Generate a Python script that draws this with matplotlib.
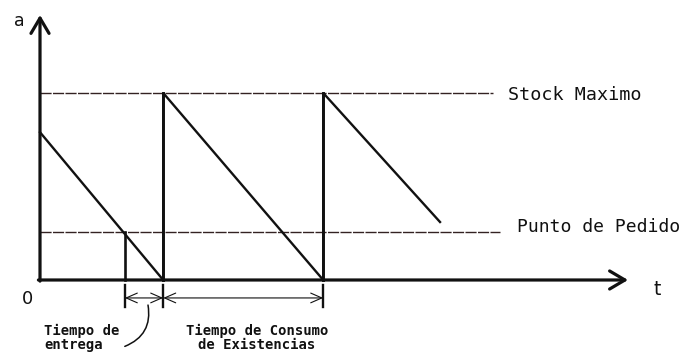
import matplotlib
matplotlib.use("Agg")
import matplotlib.pyplot as plt

# sawtooth: stock level over time (3 cycles)
t_stock = [0, 7.7, 7.7, 17.7, 17.7, 25.0]
a_stock = [79, 0, 100, 0, 100, 31]

stock_max = 100
punto_pedido = 25.7
t_pedido = 5.3          # moment the level crosses the reorder point
t_reposicion = [7.7, 17.7]
t_max_end = 28.3
t_pedido_end = 28.75

label_max = "Stock Maximo"
label_pedido = "Punto de Pedido"
label_entrega = ["Tiempo de", "entrega"]
label_consumo = ["Tiempo de Consumo", "de Existencias"]

INK = "#111111"
MONO = "DejaVu Sans Mono"

fig = plt.figure(figsize=(6.93, 3.52), dpi=100)
ax = fig.add_axes([0, 0, 1, 1])
ax.set_xlim(-2.5, 40.81)
ax.set_ylim(-38.5, 149.7)
ax.axis("off")

# axes with open arrowheads
head = "->,head_length=1.1,head_width=0.65"
ax.annotate("", xy=(0, 141.7), xytext=(0, -0.6),
            arrowprops=dict(arrowstyle=head, lw=2.3, color=INK,
                            shrinkA=0, shrinkB=0))
ax.annotate("", xy=(36.75, 0), xytext=(-0.1, 0),
            arrowprops=dict(arrowstyle=head, lw=2.3, color=INK,
                            shrinkA=0, shrinkB=0))

# reference levels
ax.plot([0, t_max_end], [stock_max, stock_max], color="#332222", lw=1.0,
        linestyle=(0, (8, 1)))
ax.plot([0, t_pedido_end], [punto_pedido, punto_pedido], color="#332222",
        lw=1.0, linestyle=(0, (8, 1)))

# stock level
ax.plot(t_stock, a_stock, color=INK, lw=1.7, solid_joinstyle="miter")
for tr in t_reposicion:
    ax.plot([tr, tr], [0, stock_max], color=INK, lw=2.1)
ax.plot([t_pedido, t_pedido], [0, punto_pedido], color=INK, lw=1.9)

# dimension ticks and arrows
for tx in [t_pedido] + t_reposicion:
    ax.plot([tx, tx], [-2.7, -14.4], color=INK, lw=1.7)
dim = "<->,head_length=0.8,head_width=0.35"
ax.annotate("", xy=(t_reposicion[0], -9.6), xytext=(t_pedido, -9.6),
            arrowprops=dict(arrowstyle=dim, lw=0.8, color=INK,
                            shrinkA=0, shrinkB=0))
ax.annotate("", xy=(t_reposicion[1], -9.6), xytext=(t_reposicion[0], -9.6),
            arrowprops=dict(arrowstyle=dim, lw=0.8, color=INK,
                            shrinkA=0, shrinkB=0))

# leader from lead-time arrow to its label
ax.annotate("", xy=(5.3, -35.5), xytext=(6.75, -13.4),
            arrowprops=dict(arrowstyle="-", lw=1.1, color=INK,
                            shrinkA=0, shrinkB=0,
                            connectionstyle="arc3,rad=-0.4"))

# labels
ax.text(-1.31, 138.5, "a", fontsize=12.5, family="DejaVu Sans", color=INK,
        ha="center", va="center")
ax.text(38.6, -5.3, "t", fontsize=13.5, family="DejaVu Sans", color=INK,
        ha="center", va="center")
ax.text(-0.81, -10.2, "0", fontsize=13, family="DejaVu Sans", color=INK,
        ha="center", va="center")
ax.text(29.25, 99, label_max, fontsize=13.2, family=MONO, color=INK,
        ha="left", va="center")
ax.text(29.8, 28.3, label_pedido, fontsize=13, family=MONO, color=INK,
        ha="left", va="center")

for txt, x, y in [(label_entrega[0], 2.63, -27.3),
                  (label_entrega[1], 2.13, -34.8),
                  (label_consumo[0], 13.6, -27.3),
                  (label_consumo[1], 13.56, -34.8)]:
    ax.text(x, y, txt, fontsize=10, family=MONO, weight="bold", color=INK,
            ha="center", va="center")

fig.savefig("out.png", dpi=100, facecolor="white")
